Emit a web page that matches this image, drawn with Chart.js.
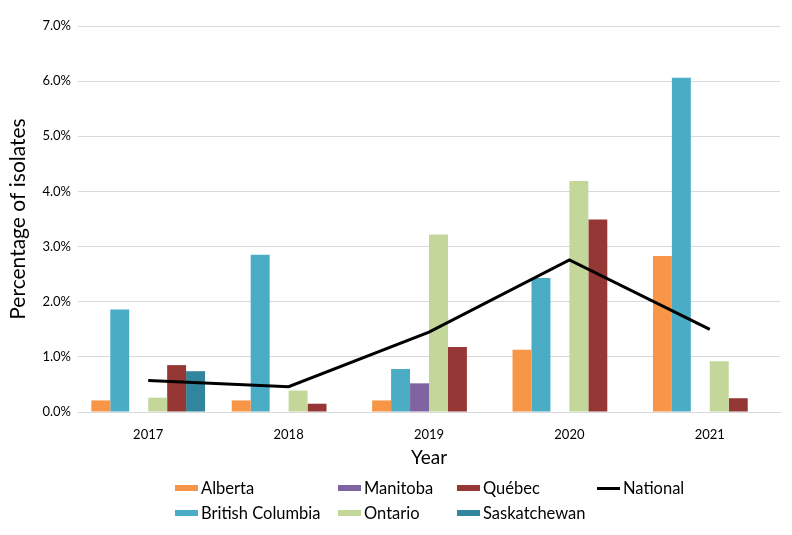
<!DOCTYPE html>
<html>
<head>
<meta charset="utf-8">
<script src="https://cdn.jsdelivr.net/npm/chart.js@4/dist/chart.umd.min.js"></script>
<style>
  html, body { margin:0; padding:0; background:#fff; }
  #wrap { position:relative; width:792px; height:535px; font-family: Lato, "Noto Sans", sans-serif; }
  #box { position:absolute; left:0; top:0; width:792px; height:470px; }
  #legend { position:absolute; left:0; top:0; width:792px; height:535px; pointer-events:none; }
  .li { position:absolute; display:flex; align-items:center; font-size:16.5px; color:#000; white-space:nowrap; transform:translateY(-50%); }
  .sw { width:23px; margin-right:3px; }
</style>
</head>
<body>
<div id="wrap">
  <div id="box"><canvas id="c"></canvas></div>
  <div id="legend"></div>
</div>
<script>
const years = ['2017', '2018', '2019', '2020', '2021'];
const alberta = [0.21, 0.21, 0.21, 1.13, 2.83];
const britishColumbia = [1.86, 2.85, 0.78, 2.43, 6.06];
const manitoba = [0, 0, 0.52, 0, 0];
const ontario = [0.26, 0.39, 3.22, 4.19, 0.92];
const quebec = [0.85, 0.15, 1.18, 3.49, 0.25];
const saskatchewan = [0.74, 0, 0, 0, 0];
const national = [0.57, 0.46, 1.45, 2.76, 1.50];
const yTicks = [0, 1, 2, 3, 4, 5, 6, 7];

const bars = [
  ['Alberta', alberta, '#F79646'],
  ['British Columbia', britishColumbia, '#4BACC6'],
  ['Manitoba', manitoba, '#8064A2'],
  ['Ontario', ontario, '#C4D79B'],
  ['Québec', quebec, '#953735'],
  ['Saskatchewan', saskatchewan, '#31859C']
];

const datasets = bars.map(([label, data, color]) => ({
  type: 'bar', label, data, backgroundColor: color, borderWidth: 0,
  categoryPercentage: 0.81, barPercentage: 1.0, order: 1
}));
datasets.push({
  type: 'line', label: 'National', data: national, borderColor: '#000', backgroundColor: '#000',
  borderWidth: 3, pointRadius: 0, tension: 0, order: 0
});

const chart = new Chart(document.getElementById('c'), {
  data: { labels: years, datasets },
  options: {
    responsive: true, maintainAspectRatio: false, animation: false,
    layout: { padding: { top: 26, right: 12, left: 0, bottom: 0 } },
    plugins: { legend: { display: false }, tooltip: { enabled: false } },
    scales: {
      x: {
        grid: { display: false, drawTicks: false },
        border: { color: '#d9d9d9', width: 1 },
        ticks: { color: '#000', font: { family: 'Lato', size: 13 }, padding: 15 },
        title: { display: true, text: 'Year', color: '#000', font: { family: 'Lato', size: 19 }, padding: { top: 0, bottom: 1 } },
        afterFit: s => { s.height = 58; }
      },
      y: {
        min: 0, max: 7,
        afterBuildTicks: s => { s.ticks = yTicks.map(v => ({ value: v })); },
        grid: { color: '#d9d9d9', lineWidth: 1, drawTicks: false },
        border: { display: false },
        ticks: { color: '#000', font: { family: 'Lato', size: 13 }, padding: 7, callback: v => v.toFixed(1) + '%' },
        title: { display: true, text: 'Percentage of isolates', color: '#000', font: { family: 'Lato', size: 21 }, padding: { top: 6, bottom: 0 } },
        afterFit: s => { s.width = 78; }
      }
    }
  }
});

// HTML legend, column-major order as in the reference
const legendEl = document.getElementById('legend');
const colX = [175, 338, 457, 597];
const rowY = [488, 513];
chart.data.datasets.forEach((ds, i) => {
  const col = Math.floor(i / 2), row = i % 2;
  const item = document.createElement('div');
  item.className = 'li';
  item.style.left = colX[col] + 'px';
  item.style.top = rowY[row] + 'px';
  const sw = document.createElement('span');
  sw.className = 'sw';
  sw.style.background = ds.type === 'line' ? ds.borderColor : ds.backgroundColor;
  sw.style.height = ds.type === 'line' ? '3px' : '6px';
  const tx = document.createElement('span');
  tx.textContent = ds.label;
  item.appendChild(sw); item.appendChild(tx);
  legendEl.appendChild(item);
});
</script>
</body>
</html>
